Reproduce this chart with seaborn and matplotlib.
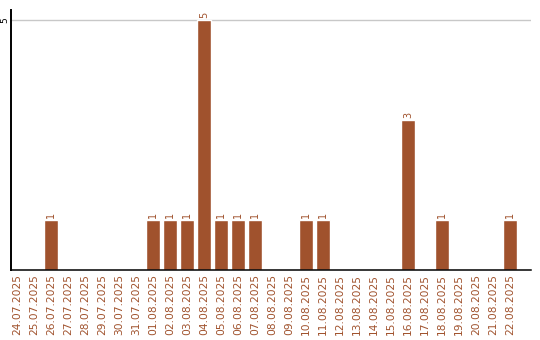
import matplotlib
matplotlib.use("Agg")
import matplotlib.pyplot as plt
import seaborn as sns
import pandas as pd

dates = ["24.07.2025", "25.07.2025", "26.07.2025", "27.07.2025", "28.07.2025",
         "29.07.2025", "30.07.2025", "31.07.2025", "01.08.2025", "02.08.2025",
         "03.08.2025", "04.08.2025", "05.08.2025", "06.08.2025", "07.08.2025",
         "08.08.2025", "09.08.2025", "10.08.2025", "11.08.2025", "12.08.2025",
         "13.08.2025", "14.08.2025", "15.08.2025", "16.08.2025", "17.08.2025",
         "18.08.2025", "19.08.2025", "20.08.2025", "21.08.2025", "22.08.2025"]
counts = [0, 0, 1, 0, 0, 0, 0, 0, 1, 1,
          1, 5, 1, 1, 1, 0, 0, 1, 1, 0,
          0, 0, 0, 3, 0, 1, 0, 0, 0, 1]

color = "#A0522D"
df = pd.DataFrame({"date": dates, "count": counts})

sns.set_style("white")
fig = plt.figure(figsize=(5.4, 3.4), dpi=100)
ax = fig.add_axes([10.5 / 540, 1 - 270 / 340, (530.7 - 10.5) / 540, 260 / 340])

sns.barplot(data=df, x="date", y="count", color=color, saturation=1,
            width=0.82, ax=ax, order=dates)

ax.set_xlim(-0.38, 30.22)
ax.set_ylim(0, 5.2)
ax.set_yticks([5])
ax.set_yticklabels(["5"], rotation=90, va="center", fontsize=6.5, color="black")
ax.yaxis.grid(True, color="#c8c8c8", linewidth=1)
ax.set_axisbelow(True)
ax.tick_params(axis="y", length=0, pad=1)
ax.tick_params(axis="x", length=0, pad=3)
ax.set_xticks(range(len(dates)))
ax.set_xticklabels(dates, rotation=90, fontsize=7.7, color=color, va="top", ha="center")
ax.set_xlabel("")
ax.set_ylabel("")

for s in ["top", "right"]:
    ax.spines[s].set_visible(False)
ax.spines["left"].set_color("black")
ax.spines["left"].set_linewidth(1.4)
ax.spines["bottom"].set_color("black")
ax.spines["bottom"].set_linewidth(1.1)

for i, v in enumerate(counts):
    if v > 0:
        ax.text(i, v + 0.04, str(v), rotation=90, ha="center", va="bottom",
                fontsize=7, color=color)

fig.savefig("out.png", dpi=100)
